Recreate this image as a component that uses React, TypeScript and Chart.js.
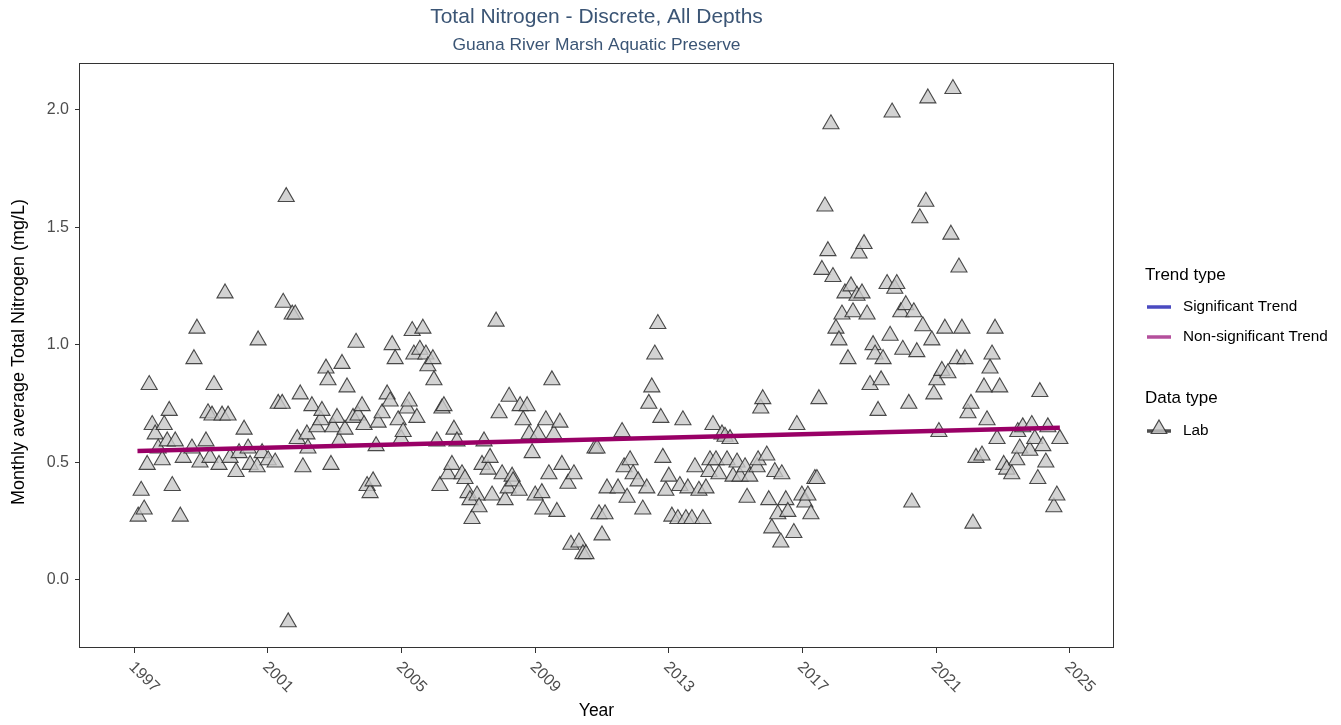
import React, { useEffect, useRef } from "react";
import { Chart, registerables } from "chart.js";

Chart.register(...registerables);

const TITLE = "Total Nitrogen - Discrete, All Depths";
const SUBTITLE = "Guana River Marsh Aquatic Preserve";
const X_LABEL = "Year";
const Y_LABEL = "Monthly average Total Nitrogen (mg/L)";
const X_TICKS = [1997, 2001, 2005, 2009, 2013, 2017, 2021, 2025];
const Y_TICKS = [0, 0.5, 1, 1.5, 2];
const TREND_LEGEND = ["Significant Trend", "Non-significant Trend"];
const DATA_LEGEND = ["Lab"];

const obsYear = [
  1997.12, 1997.21, 1997.3, 1997.39, 1997.45, 1997.54, 1997.63, 1997.72, 1997.84, 1997.9,
  1997.99, 1998.05, 1998.14, 1998.23, 1998.38, 1998.47, 1998.73, 1998.79, 1998.88, 1998.97,
  1999.15, 1999.21, 1999.27, 1999.33, 1999.39, 1999.54, 1999.63, 1999.72, 1999.81, 1999.87,
  2000.05, 2000.14, 2000.29, 2000.41, 2000.47, 2000.68, 2000.71, 2000.83, 2001.01, 2001.22,
  2001.31, 2001.43, 2001.46, 2001.55, 2001.61, 2001.73, 2001.82, 2001.88, 2001.97, 2002.05,
  2002.17, 2002.2, 2002.32, 2002.47, 2002.59, 2002.62, 2002.74, 2002.8, 2002.89, 2002.95,
  2003.07, 2003.13, 2003.22, 2003.31, 2003.37, 2003.55, 2003.64, 2003.7, 2003.82, 2003.88,
  2003.97, 2004.06, 2004.15, 2004.24, 2004.3, 2004.42, 2004.57, 2004.66, 2004.72, 2004.81,
  2004.9, 2004.99, 2005.05, 2005.17, 2005.23, 2005.32, 2005.37, 2005.46, 2005.55, 2005.64,
  2005.73, 2005.79, 2005.94, 2005.97, 2006.06, 2006.15, 2006.21, 2006.27, 2006.39, 2006.51,
  2006.57, 2006.66, 2006.81, 2006.9, 2006.99, 2007.05, 2007.11, 2007.26, 2007.32, 2007.41,
  2007.47, 2007.59, 2007.65, 2007.71, 2007.83, 2007.92, 2008.01, 2008.1, 2008.19, 2008.22,
  2008.31, 2008.34, 2008.52, 2008.55, 2008.64, 2008.76, 2008.82, 2008.91, 2009.0, 2009.09,
  2009.2, 2009.23, 2009.32, 2009.41, 2009.5, 2009.56, 2009.65, 2009.74, 2009.8, 2009.98,
  2010.07, 2010.16, 2010.31, 2010.43, 2010.52, 2010.79, 2010.85, 2010.91, 2011.0, 2011.09,
  2011.15, 2011.48, 2011.6, 2011.66, 2011.75, 2011.84, 2011.93, 2012.08, 2012.22, 2012.34,
  2012.4, 2012.49, 2012.58, 2012.67, 2012.76, 2012.82, 2012.91, 2013.0, 2013.09, 2013.27,
  2013.33, 2013.42, 2013.51, 2013.57, 2013.69, 2013.78, 2013.9, 2014.02, 2014.11, 2014.2,
  2014.23, 2014.32, 2014.41, 2014.5, 2014.59, 2014.68, 2014.74, 2014.83, 2014.92, 2015.04,
  2015.13, 2015.28, 2015.34, 2015.42, 2015.64, 2015.67, 2015.75, 2015.81, 2015.93, 2015.99,
  2016.08, 2016.17, 2016.26, 2016.35, 2016.38, 2016.5, 2016.56, 2016.74, 2016.83, 2016.98,
  2017.07, 2017.16, 2017.25, 2017.37, 2017.43, 2017.49, 2017.58, 2017.67, 2017.76, 2017.85,
  2017.91, 2018.0, 2018.09, 2018.18, 2018.27, 2018.36, 2018.45, 2018.51, 2018.63, 2018.69,
  2018.78, 2018.84, 2018.93, 2019.02, 2019.11, 2019.17, 2019.26, 2019.35, 2019.41, 2019.53,
  2019.62, 2019.68, 2019.76, 2019.82, 2019.94, 2020.0, 2020.09, 2020.18, 2020.27, 2020.33,
  2020.42, 2020.51, 2020.6, 2020.69, 2020.75, 2020.87, 2020.93, 2021.02, 2021.08, 2021.17,
  2021.26, 2021.35, 2021.44, 2021.5, 2021.62, 2021.68, 2021.77, 2021.86, 2021.95, 2022.04,
  2022.1, 2022.19, 2022.37, 2022.43, 2022.52, 2022.61, 2022.67, 2022.76, 2022.82, 2022.9,
  2023.02, 2023.11, 2023.26, 2023.41, 2023.44, 2023.5, 2023.59, 2023.8, 2023.86, 2023.95,
  2024.04, 2024.1, 2024.19, 2024.28, 2024.34, 2024.52, 2024.61, 2024.7,
];

const obsTN = [
  0.27, 0.38, 0.3, 0.49, 0.83, 0.66, 0.62, 0.56, 0.51, 0.66,
  0.59, 0.72, 0.4, 0.59, 0.27, 0.52, 0.56, 0.94, 1.07, 0.5,
  0.59, 0.71, 0.52, 0.7, 0.83, 0.49, 0.7, 1.22, 0.7, 0.52,
  0.46, 0.54, 0.64, 0.56, 0.49, 0.48, 1.02, 0.54, 0.51, 0.5,
  0.75, 0.75, 1.18, 1.63, -0.18, 1.13, 1.13, 0.6, 0.79, 0.48,
  0.62, 0.56, 0.74, 0.65, 0.68, 0.72, 0.9, 0.85, 0.49, 0.65,
  0.69, 0.59, 0.92, 0.64, 0.82, 0.69, 1.01, 0.7, 0.74, 0.66,
  0.4, 0.37, 0.42, 0.57, 0.67, 0.71, 0.79, 0.76, 1.0, 0.94,
  0.68, 0.6, 0.63, 0.73, 0.76, 1.06, 0.96, 0.69, 0.98, 1.07,
  0.96, 0.91, 0.94, 0.85, 0.59, 0.4, 0.73, 0.74, 0.45, 0.49,
  0.64, 0.59, 0.45, 0.43, 0.37, 0.34, 0.26, 0.36, 0.31, 0.49,
  0.59, 0.47, 0.52, 0.36, 1.1, 0.71, 0.45, 0.34, 0.39, 0.78,
  0.44, 0.42, 0.38, 0.74, 0.68, 0.74, 0.62, 0.54, 0.36, 0.62,
  0.37, 0.3, 0.68, 0.45, 0.85, 0.62, 0.29, 0.67, 0.49, 0.41,
  0.15, 0.45, 0.16, 0.11, 0.11, 0.56, 0.56, 0.28, 0.19, 0.28,
  0.39, 0.39, 0.63, 0.48, 0.35, 0.51, 0.45, 0.42, 0.3, 0.39,
  0.75, 0.82, 0.96, 1.09, 0.69, 0.52, 0.38, 0.44, 0.27, 0.26,
  0.4, 0.68, 0.26, 0.39, 0.26, 0.48, 0.38, 0.26, 0.39, 0.46,
  0.51, 0.66, 0.51, 0.45, 0.62, 0.61, 0.51, 0.6, 0.44, 0.5,
  0.44, 0.48, 0.35, 0.44, 0.48, 0.51, 0.73, 0.77, 0.53, 0.34,
  0.22, 0.46, 0.28, 0.16, 0.45, 0.34, 0.29, 0.2, 0.66, 0.36,
  0.33, 0.36, 0.28, 0.43, 0.43, 0.77, 1.32, 1.59, 1.4, 1.94,
  1.29, 1.07, 1.02, 1.13, 1.22, 0.94, 1.25, 1.14, 1.21, 1.39,
  1.22, 1.43, 1.13, 0.83, 1.0, 0.96, 0.72, 0.85, 0.94, 1.26,
  1.04, 1.99, 1.24, 1.26, 1.14, 0.98, 1.17, 0.75, 0.33, 1.14,
  0.97, 1.54, 1.08, 1.61, 2.05, 1.02, 0.79, 0.85, 0.63, 0.89,
  1.07, 0.88, 1.47, 2.09, 0.94, 1.33, 1.07, 0.94, 0.71, 0.75,
  0.24, 0.52, 0.53, 0.82, 0.68, 0.9, 0.96, 1.07, 0.6, 0.82,
  0.49, 0.47, 0.45, 0.51, 0.63, 0.56, 0.65, 0.55, 0.66, 0.6,
  0.43, 0.8, 0.57, 0.5, 0.65, 0.31, 0.36, 0.6,
];

const trendYear = [1997.1, 2024.7];
const trendTN = [0.548, 0.647];

const FONT = '"Liberation Sans", Arial, Helvetica, sans-serif';
const TITLE_COLOR = "#3b5575";
const TICK_COLOR = "#4d4d4d";
const POINT_FILL = "rgba(200,200,200,0.8)";
const POINT_STROKE = "rgba(45,45,45,0.85)";
const TREND_COLOR = "#990066";
const SIG_COLOR = "#4a4ac0";
const NONSIG_COLOR = "#b44f9c";

const decorPlugin = {
  id: "decor",
  afterDraw(chart: any) {
    const ctx = chart.ctx as CanvasRenderingContext2D;
    const area = chart.chartArea;
    const xs = chart.scales.x;
    ctx.save();
    // panel border
    ctx.strokeStyle = "#333333";
    ctx.lineWidth = 1;
    ctx.strokeRect(
      Math.round(area.left) + 0.5,
      Math.round(area.top) + 0.5,
      Math.round(area.right - area.left) - 1,
      Math.round(area.bottom - area.top) - 1
    );
    // rotated x tick labels
    ctx.fillStyle = TICK_COLOR;
    ctx.font = `16px ${FONT}`;
    ctx.textAlign = "left";
    ctx.textBaseline = "top";
    X_TICKS.forEach((t) => {
      const px = xs.getPixelForValue(t);
      ctx.save();
      ctx.translate(px + 3, area.bottom + 11);
      ctx.rotate(Math.PI / 4);
      ctx.fillText(String(t), 0, 0);
      ctx.restore();
    });
    // titles
    const cx = (area.left + area.right) / 2;
    ctx.textAlign = "center";
    ctx.textBaseline = "middle";
    ctx.fillStyle = TITLE_COLOR;
    ctx.font = `21px ${FONT}`;
    ctx.fillText(TITLE, cx, 17);
    ctx.font = `17.4px ${FONT}`;
    ctx.fillText(SUBTITLE, cx, 45);
    // axis titles
    ctx.fillStyle = "#000000";
    ctx.font = `17.5px ${FONT}`;
    ctx.fillText(X_LABEL, cx, 711);
    ctx.save();
    ctx.translate(19, 352);
    ctx.rotate(-Math.PI / 2);
    ctx.font = `18px ${FONT}`;
    ctx.fillText(Y_LABEL, 0, 0);
    ctx.restore();
    // legend
    const lx = 1145;
    ctx.textAlign = "left";
    ctx.fillStyle = "#000000";
    ctx.font = `17px ${FONT}`;
    ctx.fillText("Trend type", lx, 275);
    ctx.fillText("Data type", lx, 398);
    ctx.font = `15.3px ${FONT}`;
    const trendCols = [SIG_COLOR, NONSIG_COLOR];
    TREND_LEGEND.forEach((lab, i) => {
      const y = 307 + i * 30;
      ctx.strokeStyle = trendCols[i];
      ctx.lineWidth = 3.5;
      ctx.beginPath();
      ctx.moveTo(1147, y);
      ctx.lineTo(1171, y);
      ctx.stroke();
      ctx.fillStyle = "#000000";
      ctx.fillText(lab, 1183, y);
    });
    DATA_LEGEND.forEach((lab) => {
      const y = 431;
      ctx.strokeStyle = "rgba(60,60,60,0.9)";
      ctx.lineWidth = 3.5;
      ctx.beginPath();
      ctx.moveTo(1147, y);
      ctx.lineTo(1171, y);
      ctx.stroke();
      const r = 9;
      const tx = 1159;
      const ty = 429;
      ctx.beginPath();
      ctx.moveTo(tx, ty - r);
      ctx.lineTo(tx + r * 0.866, ty + r / 2);
      ctx.lineTo(tx - r * 0.866, ty + r / 2);
      ctx.closePath();
      ctx.fillStyle = POINT_FILL;
      ctx.fill();
      ctx.strokeStyle = POINT_STROKE;
      ctx.lineWidth = 1.2;
      ctx.stroke();
      ctx.fillStyle = "#000000";
      ctx.fillText(lab, 1183, y);
    });
    ctx.restore();
  },
};

export default function App() {
  const ref = useRef<HTMLCanvasElement | null>(null);
  useEffect(() => {
    document.body.style.margin = "0";
    const canvas = ref.current;
    if (!canvas) return;
    const points = obsYear.map((x, i) => ({ x, y: obsTN[i] }));
    const trend = trendYear.map((x, i) => ({ x, y: trendTN[i] }));
    const chart = new Chart(canvas, {
      type: "scatter",
      data: {
        datasets: [
          {
            type: "line",
            label: "Trend",
            data: trend,
            borderColor: TREND_COLOR,
            borderWidth: 4.5,
            pointRadius: 0,
            fill: false,
            order: 0,
          } as any,
          {
            type: "scatter",
            label: "Lab",
            data: points,
            pointStyle: "triangle",
            pointRadius: 9.3,
            backgroundColor: POINT_FILL,
            borderColor: POINT_STROKE,
            borderWidth: 1.1,
            order: 1,
          } as any,
        ],
      },
      options: {
        responsive: false,
        animation: false,
        events: [],
        layout: { padding: { left: 0, right: 227, top: 63, bottom: 0 } },
        plugins: {
          legend: { display: false },
          title: { display: false },
          tooltip: { enabled: false },
        },
        scales: {
          x: {
            type: "linear",
            min: 1995.35,
            max: 2026.32,
            afterBuildTicks: (s: any) => {
              s.ticks = X_TICKS.map((v) => ({ value: v }));
            },
            afterFit: (s: any) => {
              s.height = 77;
            },
            ticks: { display: false },
            grid: {
              drawOnChartArea: false,
              drawTicks: true,
              tickLength: 5,
              color: "#333333",
              lineWidth: 1,
            },
            border: { display: false },
          },
          y: {
            type: "linear",
            min: -0.29,
            max: 2.2,
            afterBuildTicks: (s: any) => {
              s.ticks = Y_TICKS.map((v) => ({ value: v }));
            },
            afterFit: (s: any) => {
              s.width = 79;
            },
            ticks: {
              color: TICK_COLOR,
              font: { family: FONT, size: 16 },
              padding: 6,
              callback: (v: any) => Number(v).toFixed(1),
            },
            grid: {
              drawOnChartArea: false,
              drawTicks: true,
              tickLength: 4,
              color: "#333333",
              lineWidth: 1,
            },
            border: { display: false },
          },
        },
      } as any,
      plugins: [decorPlugin],
    });
    return () => chart.destroy();
  }, []);
  return (
    <div style={{ position: "fixed", left: 0, top: 0, width: 1341, height: 725, background: "#ffffff" }}>
      <canvas ref={ref} width={1341} height={725} style={{ display: "block" }} />
    </div>
  );
}
